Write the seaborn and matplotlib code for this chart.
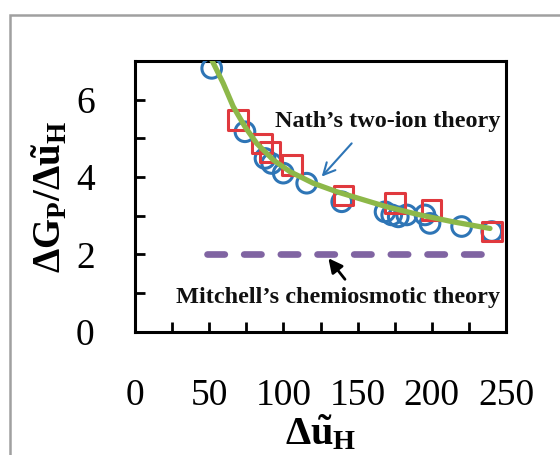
import matplotlib
matplotlib.use("Agg")
import matplotlib.pyplot as plt
import seaborn as sns
import pandas as pd
from matplotlib.patches import Rectangle
from matplotlib.ticker import MultipleLocator

# ---- data ----
circle_x = [51.7, 74.1, 87.6, 92.1, 99.9, 115.7, 139.3, 168.5, 173.0, 177.4, 183.1, 195.4, 198.8, 220.1, 240.4]
circle_y = [6.81, 5.17, 4.48, 4.35, 4.10, 3.84, 3.36, 3.10, 3.02, 2.97, 3.02, 3.02, 2.80, 2.72, 2.59]

square_x = [69.6, 85.4, 91.0, 105.6, 140.4, 175.2, 199.9, 240.4]
square_y = [5.47, 4.87, 4.65, 4.31, 3.52, 3.32, 3.15, 2.59]

nath_x = [51.7, 59.5, 66.2, 74.1, 82.0, 93.2, 104.4, 120.1, 135.9, 147.1, 169.6, 192.0, 214.5, 239.2]
nath_y = [7.03, 6.42, 5.82, 5.30, 4.87, 4.44, 4.14, 3.84, 3.62, 3.49, 3.23, 3.02, 2.84, 2.67]

mitchell_x = [48.3, 240.4]
mitchell_y = [2.0, 2.0]

x_ticks = [0, 50, 100, 150, 200, 250]
y_ticks = [0, 2, 4, 6]

sns.set_theme(style="white")
plt.rcParams["font.family"] = ["Liberation Serif", "DejaVu Serif"]
plt.rcParams["mathtext.fontset"] = "custom"
plt.rcParams["mathtext.rm"] = "Liberation Serif"
plt.rcParams["mathtext.bf"] = "Liberation Serif:bold"
plt.rcParams["mathtext.it"] = "Liberation Serif:italic"

fig = plt.figure(figsize=(5.6, 4.55), dpi=100)
ax = fig.add_axes([135/560, 1 - 331.7/455, (506-135)/560, (331.7-61)/455])

# outer grey frame
fig.patches.append(Rectangle((9.5/560, -0.1), 1.2, (455-15)/455 + 0.1, transform=fig.transFigure,
                             fill=False, edgecolor="#a0a0a0", lw=1.8, zorder=0))

df_m = pd.DataFrame({"x": mitchell_x, "y": mitchell_y})
sns.lineplot(data=df_m, x="x", y="y", ax=ax, color="#8064A2", lw=4.8,
             dashes=False, solid_capstyle="round", zorder=2)
ax.lines[-1].set_linestyle((0, (2.6, 2.9)))
ax.lines[-1].set_dash_capstyle("round")

df_c = pd.DataFrame({"x": circle_x, "y": circle_y})
sns.scatterplot(data=df_c, x="x", y="y", ax=ax, marker="o", s=200, facecolor="none",
                edgecolor="#2E75B6", linewidth=2.2, zorder=3)
df_s = pd.DataFrame({"x": square_x, "y": square_y})
sns.scatterplot(data=df_s, x="x", y="y", ax=ax, marker="s", s=200, facecolor="none",
                edgecolor="#E0393E", linewidth=2.2, zorder=4)

df_n = pd.DataFrame({"x": nath_x, "y": nath_y})
sns.lineplot(data=df_n, x="x", y="y", ax=ax, color="#8DB849", lw=3.8, sort=False, zorder=5)

ax.set_xlim(0, 250)
ax.set_ylim(0, 7)
ax.set_xticks(x_ticks)
ax.set_xticklabels([str(v) for v in x_ticks])
ax.xaxis.set_minor_locator(MultipleLocator(25))
ax.set_yticks(y_ticks)
ax.set_yticklabels([str(v) for v in y_ticks])
ax.yaxis.set_minor_locator(MultipleLocator(1))
ax.tick_params(axis="both", which="both", direction="in", length=7, width=2, color="black",
               bottom=True, left=True, top=False, right=False)
ax.tick_params(axis="x", which="major", labelsize=27, pad=34, labelcolor="black")
ax.tick_params(axis="y", which="major", labelsize=27, pad=29, labelcolor="black")
for s in ax.spines.values():
    s.set_color("black")
    s.set_linewidth(2.2)

ax.set_xlabel(r"$\mathbf{\Delta\tilde{u}_H}$", fontsize=29, color="black", labelpad=0)
ax.set_ylabel(r"$\mathbf{\Delta G_P/\Delta\tilde{u}_H}$", fontsize=28, color="black", labelpad=4)

ax.text(170.5, 5.285, "Nath\u2019s two-ion theory", ha="center", va="baseline",
        fontsize=17.5, fontweight="bold", color="#111111")
ax.text(136.5, 0.734, "Mitchell\u2019s chemiosmotic theory", ha="center", va="baseline",
        fontsize=17.5, fontweight="bold", color="#111111")

ax.annotate("", xy=(125.8, 4.01), xytext=(146.0, 4.87),
            arrowprops=dict(arrowstyle="->,head_length=0.7,head_width=0.35", color="#2E75B6", lw=1.5,
                            shrinkA=0, shrinkB=0), zorder=6)
ax.annotate("", xy=(130.3, 1.90), xytext=(141.5, 1.355),
            arrowprops=dict(arrowstyle="-|>,head_length=0.6,head_width=0.3", color="black", lw=2,
                            shrinkA=0, shrinkB=0, mutation_scale=14), zorder=6)

fig.savefig("out.png", dpi=100)
